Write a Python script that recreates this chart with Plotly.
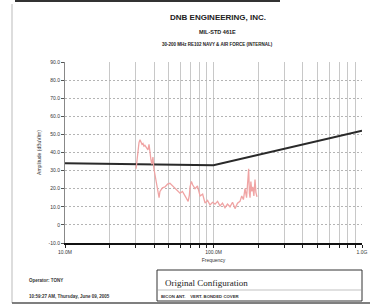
import plotly.graph_objects as go

# Measured emission (MHz, dBuV/m)
freq_mhz = [30.1, 30.6, 31.0, 31.5, 32.0, 32.5, 33.0, 33.5, 34.0, 34.5, 35.1, 35.6, 36.2, 36.8,
            37.4, 37.9, 38.5, 39.1, 39.7, 40.3, 41.0, 41.6, 42.3, 43.0, 43.6, 45.3, 47.1, 49.0,
            50.9, 53.0, 55.1, 57.2, 59.5, 61.8, 64.3, 66.0, 67.5, 68.8, 69.5, 71.0, 72.5, 75.1,
            78.0, 81.2, 84.5, 87.7, 91.2, 94.7, 98.5, 102.4, 106.5, 110.6, 115.0, 119.5, 124.2,
            129.1, 134.3, 139.6, 145.1, 150.8, 155.0, 159.0, 163.0, 167.0, 170.0, 172.5, 174.5,
            176.2, 178.5, 181.0, 184.0, 187.0, 190.3, 193.0, 196.3]
ampl_db = [31.0, 37.0, 42.5, 45.5, 47.0, 46.0, 44.5, 45.0, 43.5, 44.0, 43.0, 42.0, 41.5, 44.5,
           38.0, 36.0, 33.5, 37.5, 31.0, 28.0, 24.0, 20.5, 17.0, 15.0, 18.5, 20.5, 21.0, 22.5,
           23.0, 21.5, 20.0, 19.0, 17.5, 18.5, 16.0, 14.5, 13.0, 16.5, 21.0, 24.0, 22.0, 20.0,
           21.5, 16.0, 17.0, 12.0, 13.5, 11.0, 12.5, 11.5, 13.0, 10.5, 12.0, 9.5, 11.5,
           10.0, 12.5, 9.0, 12.0, 13.0, 16.0, 14.0, 20.0, 15.0, 22.0, 31.0, 17.5, 15.0,
           24.0, 18.5, 21.0, 16.0, 25.0, 18.0, 15.5]

# Limit line (MHz, dBuV/m)
limit_freq = [10.0, 100.0, 1000.0]
limit_db = [34.0, 33.0, 52.0]

y_ticks = [90, 80, 70, 60, 50, 40, 30, 20, 10, 0, -10]
y_labels = ["90.0", "80.0", "70.0", "60.0", "50.0", "40.0", "30.0", "20.0", "10.0", "0", "-10.0"]
y_minor = list(range(-10, 91, 2))
x_grid = [10, 20, 30, 40, 50, 60, 70, 80, 90, 100, 200, 300, 400, 500, 600, 700, 800, 900, 1000]
x_labels = ["10.0M", "", "", "", "", "", "", "", "", "100.0M", "", "", "", "", "", "", "", "", "1.0G"]

fig = go.Figure()
fig.add_trace(go.Scatter(x=limit_freq, y=limit_db, mode="lines",
                         line=dict(color="#2a2a2a", width=2), hoverinfo="skip"))
fig.add_trace(go.Scatter(x=freq_mhz, y=ampl_db, mode="lines",
                         line=dict(color="#f0a4a4", width=1.3), hoverinfo="skip"))

fig.update_layout(
    width=370, height=307,
    margin=dict(l=65, r=8, t=62, b=64, autoexpand=False),
    paper_bgcolor="white", plot_bgcolor="white",
    showlegend=False,
    font=dict(family="Liberation Sans, Arial", size=5, color="#333"),
    yaxis2=dict(overlaying="y", side="left", range=[-10, 90], tickvals=y_minor,
                showticklabels=False, ticks="outside", ticklen=2, tickcolor="#777",
                showgrid=False, zeroline=False, showline=False, automargin=False),
    xaxis=dict(type="log", range=[1, 3], tickvals=x_grid, ticktext=x_labels,
               showgrid=True, gridcolor="#c8c8c8", gridwidth=1,
               ticks="outside", ticklen=3, tickcolor="#222",
               showline=True, linecolor="#111", linewidth=2,
               tickfont=dict(size=5, color="#333"), automargin=False,
               title=dict(text="Frequency", font=dict(size=5, color="#333"), standoff=4),
               zeroline=False),
    yaxis=dict(range=[-10, 90], tickmode="array", tickvals=y_ticks, ticktext=y_labels,
               showgrid=True, gridcolor="#b4b4b4", gridwidth=1, griddash="2px,2px",
               ticks="outside", ticklen=3, tickcolor="#555",
               showline=True, linecolor="#888", linewidth=1,
               tickfont=dict(size=5, color="#333"), automargin=False,
               title=dict(text="Amplitude (dBuV/m)", font=dict(size=5, color="#333"), standoff=6),
               zeroline=False),
)

ann = [
    dict(text="<b>DNB ENGINEERING, INC.</b>", x=0.515, y=17, size=8),
    dict(text="<b>MIL-STD 461E</b>", x=0.515, y=32, size=5.5),
    dict(text="<b>30-200 MHz RE102 NAVY & AIR FORCE (INTERNAL)</b>", x=0.515, y=45, size=4.5),
]
for a in ann:
    fig.add_annotation(text=a["text"], xref="paper", yref="paper", x=a["x"],
                       y=1 + (62 - a["y"]) / 181.0, showarrow=False,
                       font=dict(size=a["size"], color="#222", family="Liberation Sans, Arial"),
                       xanchor="center", yanchor="middle")

def py(ypix):
    return (243 - ypix) / 181.0

def px(xpix):
    return (xpix - 65) / 297.0

fig.add_annotation(text="<b>Operator: TONY</b>", xref="paper", yref="paper", x=px(27), y=py(280),
                   showarrow=False, xanchor="left", yanchor="middle",
                   font=dict(size=4.5, color="#333"))
fig.add_annotation(text="<b>10:59:27 AM, Thursday, June 09, 2005</b>", xref="paper", yref="paper",
                   x=px(27), y=py(296), showarrow=False, xanchor="left", yanchor="middle",
                   font=dict(size=4.5, color="#333"))
fig.add_annotation(text="Original Configuration", xref="paper", yref="paper", x=px(163), y=py(283),
                   showarrow=False, xanchor="left", yanchor="middle",
                   font=dict(size=9, color="#222", family="Liberation Serif, Times New Roman"))
fig.add_annotation(text="<b>BICON ANT.    VERT. BONDED COVER</b>", xref="paper", yref="paper",
                   x=px(159), y=py(296), showarrow=False, xanchor="left", yanchor="middle",
                   font=dict(size=4.3, color="#333"))

# box and page edges
fig.add_shape(type="rect", xref="paper", yref="paper", x0=px(157), x1=px(362), y0=py(301), y1=py(270),
              line=dict(color="#333", width=1))
fig.add_shape(type="line", xref="paper", yref="paper", x0=px(157), x1=px(362), y0=py(290), y1=py(290),
              line=dict(color="#999", width=0.6))
fig.add_shape(type="line", xref="paper", yref="paper", x0=px(12), x1=px(12), y0=py(303), y1=py(4),
              line=dict(color="#bbb", width=1))
fig.add_shape(type="line", xref="paper", yref="paper", x0=px(12), x1=px(370), y0=py(303), y1=py(303),
              line=dict(color="#555", width=1.5))
fig.add_shape(type="line", xref="paper", yref="paper", x0=px(15), x1=px(280), y0=py(1), y1=py(1),
              line=dict(color="#333", width=2))

fig.write_html("out.html", config={"displayModeBar": False},
               post_script="document.body.style.margin='0';")
